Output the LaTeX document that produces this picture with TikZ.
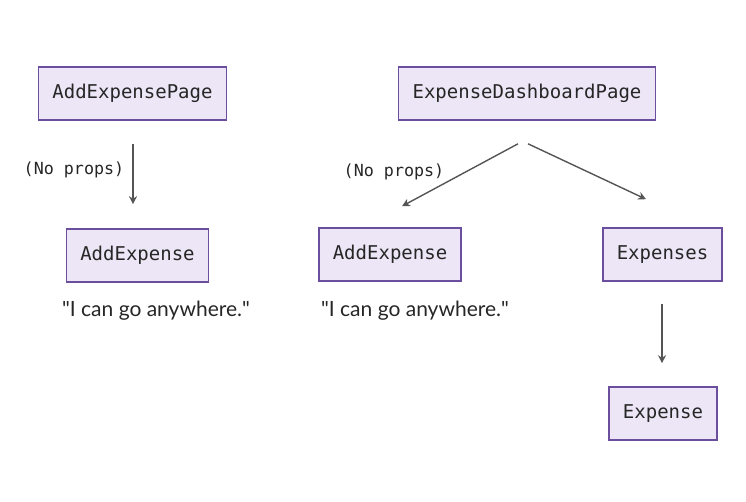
\documentclass[tikz,border=0pt]{standalone}
\usepackage{fontspec}
\setmainfont{Lato}
\setmonofont{DejaVu Sans Mono}
\usetikzlibrary{arrows.meta}
\definecolor{boxfill}{HTML}{EDE6F6}
\definecolor{boxline}{HTML}{6C4E9E}
\definecolor{arrowgray}{HTML}{555555}
\tikzset{
  comp/.style={draw=boxline, fill=boxfill, line width=1.6pt, minimum height=53pt,
    inner xsep=14pt, font=\ttfamily\fontsize{19}{21}\selectfont, text=black!85},
  edge/.style={draw=arrowgray, line width=1.4pt, -{Stealth[length=8pt,width=8pt]}},
  note/.style={font=\ttfamily\fontsize{16.7}{19}\selectfont, text=black!85},
  quote/.style={font=\fontsize{21}{24}\selectfont, text=black!85}
}
\begin{document}
\begin{tikzpicture}[x=1pt,y=-1pt]
\useasboundingbox (0,0) rectangle (746,502);
% left tree
\node[comp] (aep) at (132.5,93.5) {AddExpensePage};
\node[comp] (ae1) at (137.5,255.5) {AddExpense};
\node[quote] (q1) at (156,311) {\textquotedbl I can go anywhere.\textquotedbl};
\coordinate (aepA) at ([xshift=0.5pt,yshift=-23pt]aep.south);
\coordinate (ae1A) at ([xshift=-4.5pt,yshift=24pt]ae1.north);
\draw[edge] (aepA) -- (ae1A);
\node[note] (np1) at (74,170) {(No props)};
% right tree
\node[comp] (edp) at (527,93.5) {ExpenseDashboardPage};
\node[comp] (ae2) at (390,254.5) {AddExpense};
\node[comp] (exs) at (662.5,254.5) {Expenses};
\node[comp] (exp) at (663,413.5) {Expense};
\node[quote] (q2) at (415,311) {\textquotedbl I can go anywhere.\textquotedbl};
\coordinate (edpL) at ([xshift=-9pt,yshift=-23pt]edp.south);
\coordinate (edpR) at ([xshift=1pt,yshift=-23pt]edp.south);
\coordinate (ae2A) at ([xshift=12pt,yshift=21pt]ae2.north);
\coordinate (exsA) at ([xshift=-16.5pt,yshift=28pt]exs.north);
\coordinate (exsB) at ([xshift=-0.5pt,yshift=-22pt]exs.south);
\coordinate (expA) at ([xshift=-1pt,yshift=23pt]exp.north);
\draw[edge] (edpL) -- (ae2A);
\draw[edge] (edpR) -- (exsA);
\draw[edge] (exsB) -- (expA);
\node[note] (np2) at (394,172) {(No props)};
\end{tikzpicture}
\end{document}
